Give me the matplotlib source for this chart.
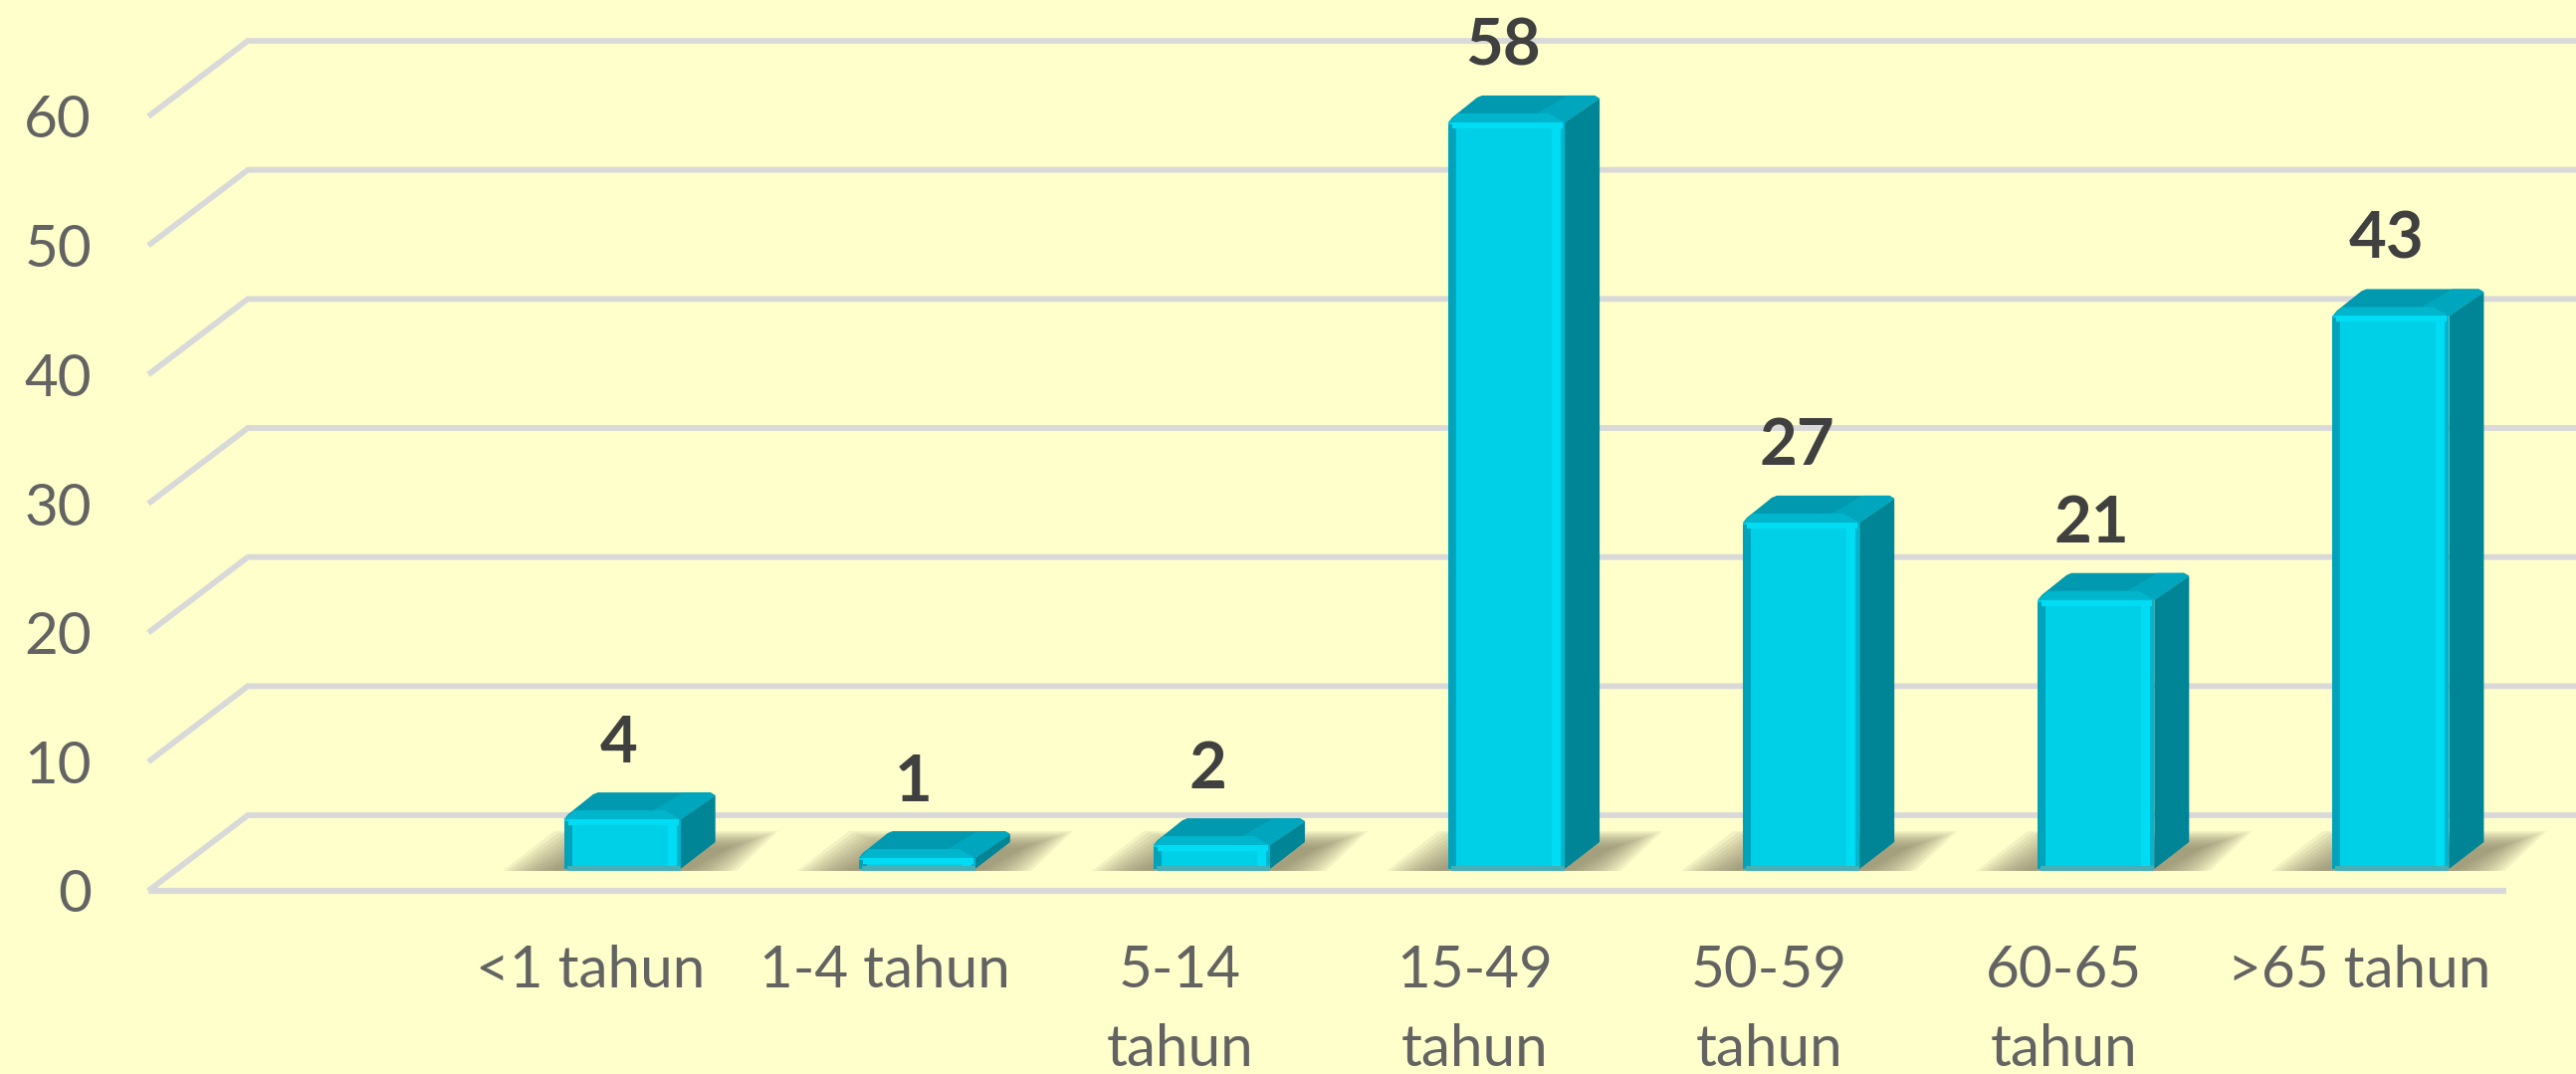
import matplotlib
matplotlib.use("Agg")
import matplotlib.pyplot as plt
from matplotlib.patches import Polygon

categories = ['<1 tahun', '1-4 tahun', '5-14\ntahun', '15-49\ntahun',
              '50-59\ntahun', '60-65\ntahun', '>65 tahun']
values = [4, 1, 2, 58, 27, 21, 43]
y_ticks = [0, 10, 20, 30, 40, 50, 60]

W, H = 2588, 1079
BG = '#FFFFCC'
GRID = '#D9D9D9'
plt.rcParams['font.family'] = ['Lato', 'DejaVu Sans']

fig = plt.figure(figsize=(W / 100, H / 100), dpi=100, facecolor=BG)
L, R, B, T = 149, 2518, 895, 117
ax = fig.add_axes([L / W, 1 - B / H, (R - L) / W, (B - T) / H], facecolor='none')
ax.set_xlim(-1.5, 6.5)
ax.set_ylim(0, 60)
sx = (R - L) / 8
sy = (B - T) / 60

def px(dx):
    return dx / sx

def py(dy):
    return dy / sy

for s in ax.spines.values():
    s.set_visible(False)

ax.set_xticks(range(len(categories)))
ax.set_xticklabels(categories, fontsize=42, color='#636363', linespacing=1.6)
ax.set_yticks(y_ticks)
ax.set_yticklabels([str(t) for t in y_ticks], fontsize=42, color='#636363')
ax.tick_params(axis='both', length=0)
ax.tick_params(axis='y', pad=41)
ax.tick_params(axis='x', pad=39)

# walls / floor
xmin, xmax = ax.get_xlim()
wx, wy = px(100), py(76)
for t in y_ticks:
    ax.plot([xmin, xmin + wx, xmax + wx], [t, t + wy, t + wy], color=GRID, lw=4.2,
            solid_joinstyle='miter', solid_capstyle='butt', clip_on=False, zorder=1)
ax.plot([xmin, xmax], [0, 0], color=GRID, lw=4.4, solid_capstyle='butt', clip_on=False, zorder=1)

def poly(pts, color, z=3, alpha=None):
    ax.add_patch(Polygon(pts, closed=True, facecolor=color, edgecolor='none',
                         alpha=alpha, clip_on=False, zorder=z))

bar_w = 117 / sx
off_x, off_y = px(32), py(22)
dx, dy = px(35), py(27)

for i, v in enumerate(values):
    cx = i + off_x
    xl, xr = cx - bar_w / 2, cx + bar_w / 2
    b = off_y
    t = off_y + v - py(2)

    # soft shadow on the floor
    for k in range(12):
        ins = 4.5 * k
        poly([(xl - px(62) + px(ins), b - py(2)),
              (xl - px(10) + px(ins), b + py(38 - 1.5 * k)),
              (xr + px(98 - ins), b + py(38 - 1.5 * k)),
              (xr + px(56 - ins), b - py(2))], '#8B8569', z=2, alpha=0.11)

    # side face
    poly([(xr, b), (xr + dx, b + dy), (xr + dx, t + dy - py(3)), (xr, t)], '#008596')
    # top face
    poly([(xl, t), (xl + px(4), t + py(5)), (xl + dx - px(6), t + dy - py(2)), (xl + dx - px(1), t + dy),
          (xr + dx - px(5), t + dy), (xr + dx, t + dy - py(3)), (xr, t)], '#0099B0')
    # lighter right part of the top
    poly([(xr - px(28), t + py(9)), (xr + px(3), t + dy), (xr + dx - px(5), t + dy),
          (xr + dx, t + dy - py(3)), (xr, t)], '#00A6BD')
    # chamfer of the top
    poly([(xl, t), (xl + px(10), t + py(9)), (xr - px(16), t + py(9)), (xr, t)], '#00B5CC')

    # front face
    poly([(xl, b), (xl, t), (xr, t), (xr, b)], '#00CFE8')
    poly([(xl, b), (xl, t - py(2)), (xl + px(8), t - py(2)), (xl + px(8), b)], '#00A3BA')
    poly([(xr - px(13), b), (xr - px(13), t), (xr - px(4), t), (xr - px(4), b)], '#00DCF3')
    poly([(xr - px(4), b), (xr - px(4), t), (xr, t), (xr, b)], '#00B5CD')
    poly([(xl + px(4), t - py(6)), (xl + px(4), t), (xr - px(2), t), (xr - px(2), t - py(6))], '#00DCF3')
    poly([(xl + px(3), b - py(2)), (xl + px(3), b + py(3)), (xr, b + py(3)), (xr, b - py(2))], '#45B1B6')

    ax.annotate(str(v), xy=(cx, t), xytext=(-4, 76), textcoords='offset pixels',
                ha='center', va='center', fontsize=47, fontweight='bold',
                color='#404040', zorder=6, annotation_clip=False)

fig.savefig('out.png', dpi=100, facecolor=BG)
